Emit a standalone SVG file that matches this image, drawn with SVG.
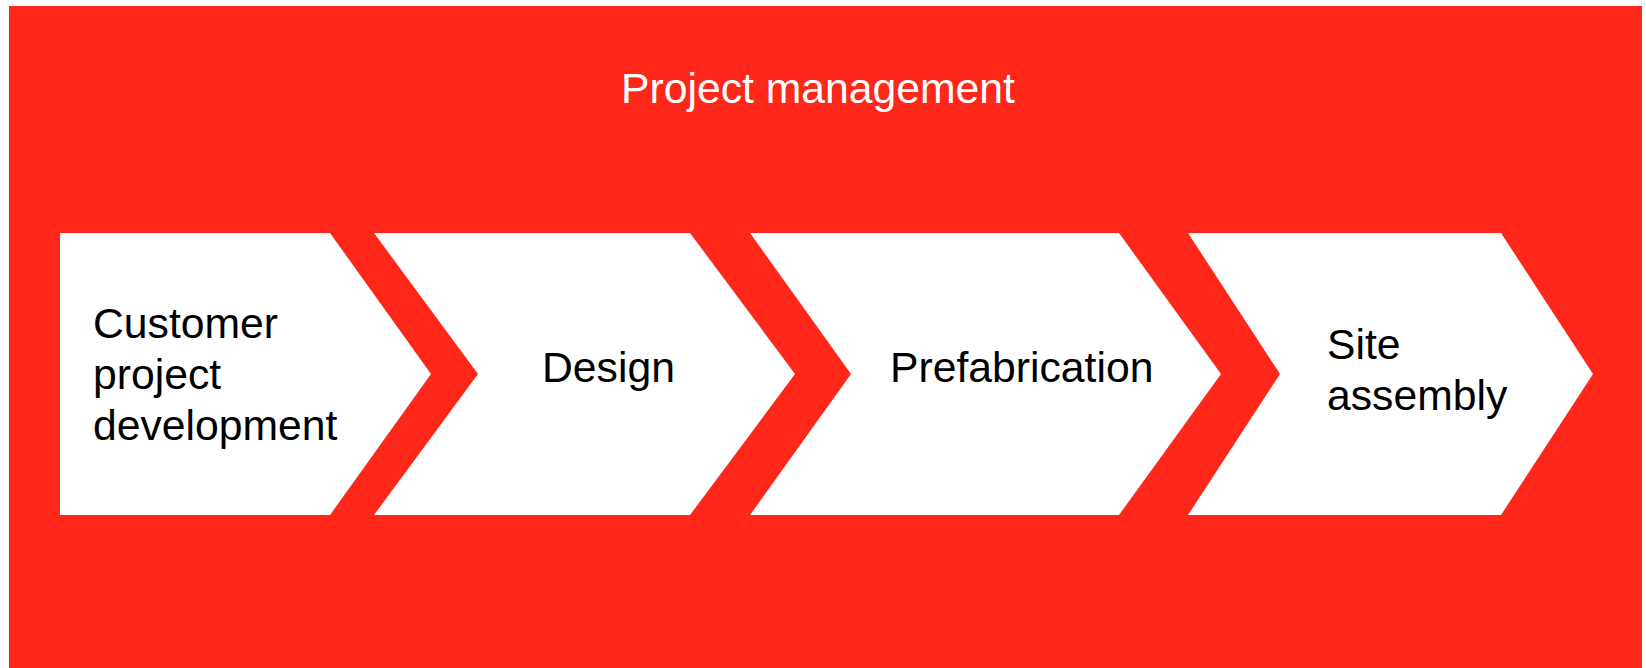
<svg xmlns="http://www.w3.org/2000/svg" width="1646" height="668" viewBox="0 0 1646 668">
  <style>
    .band { fill: #FE2719; }
    .step { fill: #FFFFFF; }
    .title { font-family: "Liberation Sans", Arial, sans-serif; font-size: 42.7px; fill: #FFFFFF; }
    .label { font-family: "Liberation Sans", Arial, sans-serif; font-size: 42.7px; fill: #000000; }
  </style>
  <rect x="0" y="0" width="1646" height="668" fill="#FFFFFF"/>
  <!-- Project management band -->
  <g id="project-management">
    <rect class="band" x="9" y="6" width="1633" height="662"/>
    <text class="title" x="818" y="103" text-anchor="middle">Project management</text>
  </g>
  <!-- Process chevrons -->
  <g id="customer-project-development">
    <polygon class="step" points="60,233 330,233 431,374 330,515 60,515"/>
    <text class="label" x="93" y="338">Customer</text>
    <text class="label" x="93" y="389">project</text>
    <text class="label" x="93" y="440">development</text>
  </g>
  <g id="design">
    <polygon class="step" points="374,233 690,233 795,374 690,515 374,515 478,374"/>
    <text class="label" x="542" y="382">Design</text>
  </g>
  <g id="prefabrication">
    <polygon class="step" points="750,233 1119,233 1221,374 1119,515 750,515 851,374"/>
    <text class="label" x="890" y="382">Prefabrication</text>
  </g>
  <g id="site-assembly">
    <polygon class="step" points="1188,233 1501,233 1593,374 1501,515 1188,515 1280,374"/>
    <text class="label" x="1327" y="359">Site</text>
    <text class="label" x="1327" y="410">assembly</text>
  </g>
  <g id="connectors"/>
</svg>
